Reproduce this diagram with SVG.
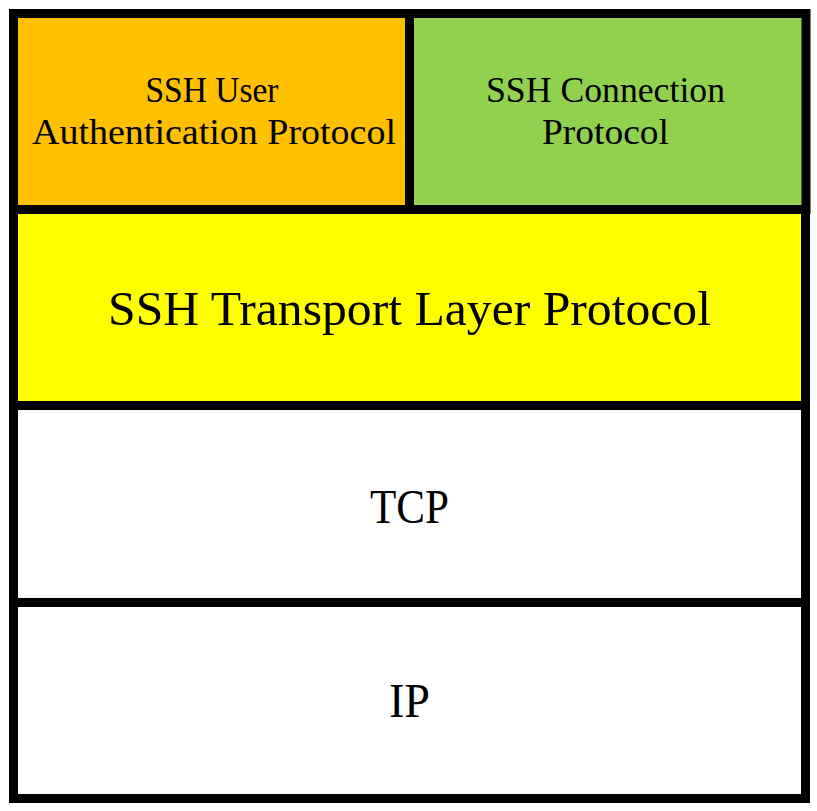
<svg xmlns="http://www.w3.org/2000/svg" width="817" height="811" viewBox="0 0 817 811">
<style>
.box{stroke:#000;stroke-width:9;}
.t{font-family:"Liberation Serif","DejaVu Serif",serif;fill:#000;text-anchor:middle;}
.s{font-size:36px;}
.b{font-size:48px;}
</style>
<rect width="817" height="811" fill="#fff"/>
<g id="user-auth">
<rect class="box" x="13.5" y="13.5" width="396" height="196" fill="#FFC000"/>
<text class="t s" x="212" y="102" textLength="133" lengthAdjust="spacingAndGlyphs">SSH User</text>
<text class="t s" x="214" y="144" textLength="364" lengthAdjust="spacingAndGlyphs">Authentication Protocol</text>
</g>
<g id="connection">
<rect class="box" x="409.5" y="13.5" width="396.5" height="196" fill="#92D050"/>
<text class="t s" x="605.5" y="102" textLength="239" lengthAdjust="spacingAndGlyphs">SSH Connection</text>
<text class="t s" x="605.5" y="144" textLength="127" lengthAdjust="spacingAndGlyphs">Protocol</text>
</g>
<g id="transport">
<rect class="box" x="13.5" y="209.5" width="792" height="196" fill="#FFFF00"/>
<text class="t b" x="409.5" y="325" textLength="603" lengthAdjust="spacingAndGlyphs">SSH Transport Layer Protocol</text>
</g>
<g id="tcp">
<rect class="box" x="13.5" y="405.5" width="792" height="197" fill="#FFFFFF"/>
<text class="t b" x="409.5" y="523" textLength="79" lengthAdjust="spacingAndGlyphs">TCP</text>
</g>
<g id="ip">
<rect class="box" x="13.5" y="602.5" width="792" height="196" fill="#FFFFFF"/>
<text class="t b" x="409.5" y="717" textLength="41" lengthAdjust="spacingAndGlyphs">IP</text>
</g>
<g id="connectors"></g>
</svg>
